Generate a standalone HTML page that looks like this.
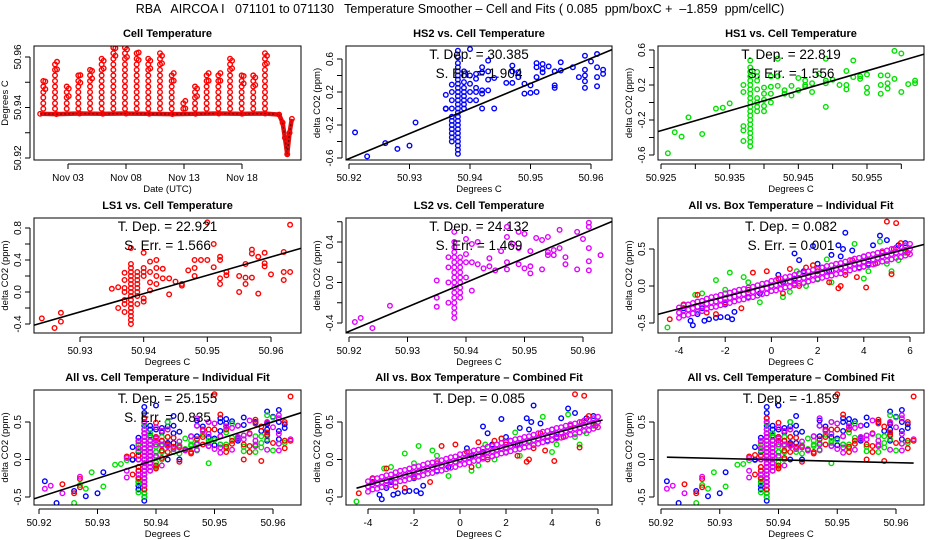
<!DOCTYPE html>
<html><head><meta charset="utf-8"><style>
html,body{margin:0;padding:0;background:#fff;}
svg{display:block;font-family:"Liberation Sans",sans-serif;}
</style></head><body>
<svg id="chart" xmlns="http://www.w3.org/2000/svg" width="936" height="540" viewBox="0 0 936 540">
<rect x="0" y="0" width="936" height="540" fill="#fff"/>
<text x="460" y="13" font-size="12.5" text-anchor="middle" xml:space="preserve">RBA   AIRCOA I   071101 to 071130   Temperature Smoother – Cell and Fits ( 0.085  ppm/boxC +  –1.859  ppm/cellC)</text>
</svg>
<script>
// ---------- data ----------
const tsSpikeDay=[0.87,1.88,2.89,3.89,4.90,5.90,6.91,7.91,8.92,9.92,10.93,11.94,12.94,13.95,14.95,15.96,16.97,17.97,18.97,19.98];
const tsSpikeTop=[50.9513,50.9591,50.9485,50.9538,50.9555,50.9595,50.9645,50.9640,50.9628,50.9595,50.9615,50.9546,50.9436,50.9485,50.9546,50.9546,50.9595,50.9535,50.9529,50.9615];
const tsBaseDay=[0.6,2,4,6,8,10,12,14,16,18,20,21.2,21.5,21.7,21.9,22.1,22.3];
const tsBaseTemp=[50.9375,50.9374,50.9376,50.9375,50.9376,50.9375,50.9374,50.9375,50.9376,50.9375,50.9376,50.9372,50.934,50.928,50.9215,50.930,50.9355];
const dateTicks=[3,8,13,18];
const dateLabels=["Nov 03","Nov 08","Nov 13","Nov 18"];

const hs2Cell=[50.921,50.923,50.926,50.928,50.930,50.931,50.936,50.937,50.938,50.939,50.940,50.941,50.942,50.943,50.944,50.946,50.947,50.948,50.949,50.950,50.951,50.952,50.953,50.954,50.955,50.957,50.958,50.959,50.960,50.961,50.962];
const hs2Co2=[[-0.29],[-0.58],[-0.42],[-0.49],[-0.45],[-0.17],[0.165,-0.005,0.0],[0.29,0.2,0.1,0.0,-0.1,-0.15,-0.2,-0.25,-0.3,-0.35,-0.4],[0.7,0.62,0.55,0.5,0.45,0.4,0.35,0.3,0.25,0.2,0.15,0.1,0.05,0,-0.05,-0.1,-0.15,-0.2,-0.25,-0.3,-0.35,-0.4,-0.45,-0.5,-0.55],[0.45,0.4,0.32,0.25,0.2,0.15,0.1,0.05,0],[0.72,0.4,0.3,0.2,0.1],[0.42,0.36,0.25,0.2,0.1],[0.5,0.44,0.22,0.18,0.0],[0.58,0.45,0.35,0.22],[0.37,0.0],[0.31],[0.52,0.45,0.31],[0.44,0.38],[0.3,0.18],[0.28,0.19],[0.55,0.5,0.38,0.2],[0.54,0.48,0.44],[0.51],[0.45,0.28,0.25],[0.56,0.46],[0.5],[0.38],[0.64,0.47,0.4,0.33,0.25],[0.57],[0.66,0.5,0.38,0.27],[0.47,0.42]];
const hs1Cell=[50.926,50.927,50.928,50.929,50.931,50.933,50.934,50.935,50.937,50.938,50.939,50.940,50.941,50.942,50.943,50.944,50.945,50.946,50.947,50.948,50.949,50.950,50.951,50.952,50.953,50.954,50.955,50.957,50.958,50.959,50.960,50.961,50.962];
const hs1Co2=[[-0.58],[-0.34],[-0.39],[-0.17],[-0.36],[-0.07],[-0.06],[-0.01],[0.2,0.12,-0.27,-0.32,-0.44],[0.48,0.4,0.35,0.3,0.25,0.2,0.15,0.1,0.05,0,-0.05,-0.1,-0.15,-0.2,-0.25,-0.3,-0.35,-0.4,-0.45,-0.5],[0.35,0.3,0.25,0.15,0.05,0,-0.05,-0.1],[0.17,0.1,0.03,-0.04,-0.1],[0.3,0.18,0.1,0.0],[0.5,0.3,0.19],[0.14,0.1],[0.19,0.08],[0.28,0.14],[0.25,0.2,0.18],[0.22,0.12],[0.33],[0.5,0.25,0.22,-0.05],[0.26],[0.2],[0.36,0.2,0.15],[0.48,0.29],[0.3,0.27],[0.32,0.17,0.11],[0.31,0.2,0.1],[0.31,0.22,0.16],[0.59,0.27],[0.56,0.12],[0.21],[0.22,0.25]];
const ls1Cell=[50.924,50.926,50.927,50.935,50.936,50.937,50.938,50.939,50.940,50.941,50.942,50.943,50.944,50.945,50.946,50.947,50.948,50.949,50.950,50.951,50.952,50.953,50.955,50.956,50.957,50.958,50.959,50.960,50.962,50.963];
const ls1Co2=[[-0.33],[-0.45],[-0.26,-0.37],[0.04],[0.06,-0.2],[0.24,0.15,0.05,0.0,-0.1,-0.15,-0.25],[0.55,0.35,0.3,0.25,0.2,0.15,0.1,0.05,0,-0.05,-0.1,-0.15,-0.2,-0.25,-0.3,-0.35,-0.4],[0.25,0.2,0.15,0.1,0.05,0,-0.05,-0.15],[0.49,0.3,0.25,0.2,-0.08,-0.12],[0.38,0.25,0.12,0.02],[0.4,0.3,0.2,0.1],[0.29,0.17],[0.17,-0.03],[0.13],[0.1,0.08],[0.27],[0.4,0.3,0.2],[0.4],[0.87,0.4],[0.6,0.31],[0.44,0.4,0.17,0.1],[0.25,0.21],[0.2,0.0],[0.35,0.18,0.1],[0.53,0.48,0.18],[0.44,-0.02],[0.49,0.36,0.32],[0.22],[0.5,0.25,0.15],[0.84,0.25]];
const ls2Cell=[50.921,50.922,50.924,50.927,50.935,50.937,50.938,50.939,50.940,50.941,50.942,50.943,50.944,50.945,50.946,50.947,50.948,50.949,50.950,50.951,50.952,50.953,50.954,50.955,50.956,50.957,50.959,50.960,50.961,50.963];
const ls2Co2=[[-0.39],[-0.35],[-0.45],[-0.23],[0.02,-0.15,-0.24],[0.25,0.15,0.0,-0.2],[0.5,0.4,0.35,0.3,0.25,0.2,0.15,0.1,0.05,0,-0.05,-0.1,-0.15,-0.2,-0.25,-0.3,-0.35],[0.25,0.2,0.15,0.1,0.05,0,-0.05,-0.1,-0.15],[0.43,0.28,0.2,0.05],[0.38,0.2,-0.08],[0.4,0.18],[0.14],[0.24,0.16],[0.12],[0.31],[0.55,0.45,0.2,0.13],[0.38],[0.5,0.34,0.18],[0.48,0.14],[0.31,0.16,0.09],[0.44],[0.42,0.13],[0.45,0.3,0.27],[0.32,0.27],[0.52,0.34],[0.25,0.18],[0.5,0.13],[0.43],[0.59,0.55,0.34,0.21,0.12],[0.27]];

const hs2BoxX=[-3.5,-3.4,-3.2,-2.9,-2.7,-2.4,-2.2,-1.9,-1.7,-1.6,-3.8,-3,-2,-1,0,0.5,1,1.4,1.0,1.2,1.8,2,2.2,2.5,2.6,2.9,3.1,3.2,3.5,3.0,4.0,4.4,4.7,5,5.5,5.8,4.2,3.8,-0.5,0.3];
const hs2BoxY=[-0.47,-0.53,-0.38,-0.47,-0.45,-0.43,-0.42,-0.42,-0.45,-0.35,-0.3,-0.3,-0.25,-0.15,0.0,0.05,0.1,0.2,0.44,0.35,0.54,0.3,0.25,0.2,0.42,0.55,0.5,0.72,0.48,0.4,0.4,0.55,0.68,0.62,0.55,0.58,0.3,0.25,-0.1,0.15];
const hs1BoxX=[-4.5,-3.8,-3,-2.4,-1.8,-1.2,-0.5,0,0.5,1.1,1.5,2,2.6,3,3.6,4.2,4.7,5.0,5.5,5.8,-2,-1,1.8,4,5.2,0.8,-3.3,2.4];
const hs1BoxY=[-0.56,-0.25,-0.1,0.08,0.18,0.12,-0.22,0.0,-0.15,0.2,0.0,0.1,0.05,0.25,0.57,0.2,0.6,0.3,0.35,0.45,-0.05,0.05,0.28,0.1,0.2,-0.08,-0.12,0.36];
const ls1BoxX=[-4.4,-3.8,-3.2,-2.8,-2.4,-2.0,-1.3,-0.8,-0.2,0.3,0.8,1,1.5,1.8,2,2.5,3,3.2,3.7,4,4.1,4.5,4.8,5,5.3,5.4,5.6,5.9,2.9,0.5,-1.0,5.2,3.5,1.2];
const ls1BoxY=[-0.45,-0.25,-0.12,-0.36,-0.38,-0.22,-0.3,0.18,0.2,0.1,0.23,0.03,0.25,0.28,0.2,0.05,0.0,0.15,0.12,0.26,-0.02,0.3,0.45,0.87,0.5,0.85,0.58,0.45,-0.03,-0.1,-0.05,0.16,0.35,0.0];
const ls2BoxX=[-4.0,-3.8,-3.6,-3.4,-3.2,-3.0,-2.8,-2.6,-2.4,-2.2,-2.0,-1.8,-1.6,-1.4,-1.2,-1.0,-0.8,-0.6,-0.4,-0.2,0.0,0.2,0.4,0.6,0.8,1.0,1.2,1.4,1.6,1.8,2.0,2.2,2.4,2.6,2.8,3.0,3.2,3.4,3.6,3.8,4.0,4.2,4.4,4.6,4.8,5.0,5.2,5.4,5.6,5.8,6.0];
const ls2BoxY=[-0.36,-0.33,-0.32,-0.30,-0.28,-0.27,-0.24,-0.22,-0.21,-0.19,-0.17,-0.16,-0.14,-0.12,-0.11,-0.09,-0.08,-0.06,-0.04,-0.03,0.0,0.01,0.03,0.05,0.06,0.08,0.10,0.11,0.13,0.15,0.16,0.18,0.20,0.21,0.23,0.24,0.26,0.28,0.30,0.31,0.33,0.35,0.36,0.38,0.40,0.41,0.43,0.45,0.46,0.48,0.50];

const fitSlope=[30.385,22.819,22.921,24.132,0.082,25.155,0.085,-1.859];
const fitAtRef=[0.0,0.02,-0.02,0.0,0.02,0.0,0.0,-0.005];
const tDepText=["30.385","22.819","22.921","24.132","0.082","25.155","0.085","-1.859"];
const sErrText=["1.904","1.556","1.566","1.469","0.001","0.835",null,null];

// ---------- drawing ----------
const NS="http://www.w3.org/2000/svg";
const svg=document.getElementById('chart');
function el(tag,attrs,parent){const e=document.createElementNS(NS,tag);for(const k in attrs)e.setAttribute(k,attrs[k]);(parent||svg).appendChild(e);return e;}
function lin(v1,p1,v2,p2){return v=>p1+(v-v1)*(p2-p1)/(v2-v1);}
const COLS=[[34,301],[346,612],[658,924]];
const ROWS=[[46,160],[218,333],[390,505]];
const COLORS={hs2:"#0000ff",hs1:"#00e000",ls1:"#ff0000",ls2:"#e000ff"};
let clipId=0;

function panel(o){
  const g=el('g',{});
  
  
  const [L,R]=COLS[o.col],[T,B]=ROWS[o.row];
  const sx=lin(o.xr[0],o.xr[1],o.xr[2],o.xr[3]);
  const sy=lin(o.yr[0],o.yr[1],o.yr[2],o.yr[3]);
  const cid='clip'+(clipId++);
  const cp=el('clipPath',{id:cid},g);el('rect',{x:L,y:T,width:R-L,height:B-T},cp);
  const plot=el('g',{'clip-path':'url(#'+cid+')'},g);
  
  
  const t=el('text',{x:(L+R)/2,y:T-9,'font-size':11,'font-weight':'bold','text-anchor':'middle'},g);
  t.textContent=o.title;
  
  
  const xa=el('g',{stroke:'#000','stroke-width':1},g);
  
  
  const xt=o.xticks;
  el('line',{x1:sx(xt[0]),x2:sx(xt[xt.length-1]),y1:B+4,y2:B+4},xa);
  xt.forEach((v,i)=>{
    el('line',{x1:sx(v),x2:sx(v),y1:B+4,y2:B+9},xa);
    const lab=o.xlabels[i];
    if(lab!==null){const tx=el('text',{x:sx(v),y:B+21,'font-size':10,'text-anchor':'middle',stroke:'none'},g);tx.textContent=lab;
      
      }
  });
  const xtitle=el('text',{x:(L+R)/2,y:B+32,'font-size':9.5,'text-anchor':'middle'},g);
  xtitle.textContent=o.xtitle;
  
  
  const ya=el('g',{stroke:'#000','stroke-width':1},g);
  
  
  const yt=o.yticks;
  el('line',{x1:L-4,x2:L-4,y1:sy(yt[0]),y2:sy(yt[yt.length-1])},ya);
  yt.forEach((v,i)=>{
    el('line',{x1:L-4,x2:L-9,y1:sy(v),y2:sy(v)},ya);
    const lab=o.ylabels[i];
    if(lab!==null){const tx=el('text',{x:0,y:0,'font-size':10,'text-anchor':'middle',transform:`translate(${L-13},${sy(v)}) rotate(-90)`},g);tx.textContent=lab;
      
      }
  });
  const ytitle=el('text',{x:0,y:0,'font-size':9.5,'text-anchor':'middle',transform:`translate(${L-26},${(T+B)/2}) rotate(-90)`},g);
  ytitle.textContent=o.ytitle;
  
  
  const bx=el('rect',{x:L,y:T,width:R-L,height:B-T,fill:'none',stroke:'#000','stroke-width':1},g);
  
  
  return {g,plot,sx,sy,L,R,T,B};
}
function pt(p,x,y,color){
  const c=el('circle',{cx:x,cy:y,r:2.3,fill:'none',stroke:color,'stroke-width':1.4},p.plot);
  
  
}
function cellPoints(p,temps,co2,color){
  temps.forEach((t,i)=>co2[i].forEach(v=>pt(p,p.sx(t),p.sy(v),color)));
}
function boxPoints(p,xs,ys,color,dense){
  xs.forEach((x,i)=>{
    if(dense){[-0.07,0,0.07].forEach(d=>pt(p,p.sx(x),p.sy(ys[i]+d),color));}
    else pt(p,p.sx(x),p.sy(ys[i]),color);
  });
}
function fit(p,k,xref,x1,x2){
  const f=x=>fitAtRef[k]+fitSlope[k]*(x-xref);
  const ln=el('line',{x1:p.sx(x1),y1:p.sy(f(x1)),x2:p.sx(x2),y2:p.sy(f(x2)),stroke:'#000','stroke-width':1.6},p.plot);
  
  
}
function note(p,k){
  const cx=(p.L+p.R)/2;
  const a=el('text',{x:cx,y:p.T+13,'font-size':13.5,'text-anchor':'middle','xml:space':'preserve'},p.g);
  a.textContent='T. Dep. =  '+tDepText[k];
  
  
  if(sErrText[k]!==null){
    const b=el('text',{x:cx,y:p.T+32,'font-size':13.5,'text-anchor':'middle','xml:space':'preserve'},p.g);
    b.textContent='S. Err. =  '+sErrText[k];
    
    
  }
}
function rng(a,b,s){const r=[];for(let v=a;v<=b+1e-9;v+=s)r.push(+v.toFixed(4));return r;}
const cellX=[50.92,50.93,50.94,50.95,50.96], cellXL=["50.92","50.93","50.94","50.95","50.96"];
const co2Y6=rng(-0.6,0.6,0.2), co2Y6L=["-0.6",null,"-0.2",null,"0.2",null,"0.6"];
const co2Y5=[-0.5,0,0.5], co2Y5L=["-0.5","0.0","0.5"];
const boxX=[-4,-2,0,2,4,6], boxXL=["-4","-2","0","2","4","6"];
const DY="delta CO2 (ppm)", DC="Degrees C";

const p1=panel({name:'cell-temperature-panel',col:0,row:0,title:'Cell Temperature',xr:[3,68,8,126],yr:[50.96,57,50.92,158],
  xticks:dateTicks,xlabels:dateLabels,yticks:[50.92,50.93,50.94,50.95,50.96],ylabels:["50.92",null,"50.94",null,"50.96"],xtitle:'Date (UTC)',ytitle:'Degrees C'});
{
  const pts=tsBaseDay.map((d,i)=>p1.sx(d)+','+p1.sy(tsBaseTemp[i])).join(' ');
  const bl=el('polyline',{points:pts,fill:'none',stroke:'#e01010','stroke-width':4.5,'stroke-linejoin':'round'},p1.plot);
  
  
  const bl2=el('polyline',{points:pts,fill:'none',stroke:'#600','stroke-width':1.2,'stroke-dasharray':'2 2'},p1.plot);
  
  
  tsBaseDay.forEach((d,i)=>pt(p1,p1.sx(d),p1.sy(tsBaseTemp[i]),'#ff0000'));
  tsSpikeDay.forEach((d,i)=>{
    for(let t=50.9395;t<=tsSpikeTop[i]+1e-6;t+=0.0022){
      pt(p1,p1.sx(d),p1.sy(t),'#ff0000');
    }
    pt(p1,p1.sx(d)+2,p1.sy(tsSpikeTop[i]-0.001),'#ff0000');
    pt(p1,p1.sx(d)+2,p1.sy(tsSpikeTop[i]-0.004),'#ff0000');
  });
}
const p2=panel({name:'hs2-panel',col:1,row:0,title:'HS2 vs. Cell Temperature',xr:[50.92,349,50.96,591],yr:[0.6,59,-0.6,158],
  xticks:cellX,xlabels:cellXL,yticks:co2Y6,ylabels:co2Y6L,xtitle:DC,ytitle:DY});
cellPoints(p2,hs2Cell,hs2Co2,COLORS.hs2);fit(p2,0,50.94,50.91,50.97);note(p2,0);
const p3=panel({name:'hs1-panel',col:2,row:0,title:'HS1 vs. Cell Temperature',xr:[50.925,661,50.955,867],yr:[0.6,50,-0.6,155],
  xticks:rng(50.925,50.96,0.005),xlabels:["50.925",null,"50.935",null,"50.945",null,"50.955",null],yticks:co2Y6,ylabels:co2Y6L,xtitle:DC,ytitle:DY});
cellPoints(p3,hs1Cell,hs1Co2,COLORS.hs1);fit(p3,1,50.94,50.91,50.97);note(p3,1);
const p4=panel({name:'ls1-panel',col:0,row:1,title:'LS1 vs. Cell Temperature',xr:[50.93,80,50.96,271],yr:[0.8,228,-0.4,324],
  xticks:[50.93,50.94,50.95,50.96],xlabels:["50.93","50.94","50.95","50.96"],yticks:rng(-0.4,0.8,0.2),ylabels:["-0.4",null,"0.0",null,"0.4",null,"0.8"],xtitle:DC,ytitle:DY});
cellPoints(p4,ls1Cell,ls1Co2,COLORS.ls1);fit(p4,2,50.94,50.91,50.97);note(p4,2);
const p5=panel({name:'ls2-panel',col:1,row:1,title:'LS2 vs. Cell Temperature',xr:[50.92,349,50.96,583],yr:[0.4,242,-0.4,323],
  xticks:cellX,xlabels:cellXL,yticks:rng(-0.4,0.6,0.2),ylabels:["-0.4",null,"0.0",null,"0.4",null],xtitle:DC,ytitle:DY});
cellPoints(p5,ls2Cell,ls2Co2,COLORS.ls2);fit(p5,3,50.94,50.91,50.97);note(p5,3);
const p6=panel({name:'all-box-individual-panel',col:2,row:1,title:'All vs. Box Temperature – Individual Fit',xr:[-4,679,6,910],yr:[0.5,249,-0.5,323],
  xticks:boxX,xlabels:boxXL,yticks:co2Y5,ylabels:co2Y5L,xtitle:DC,ytitle:DY});
boxPoints(p6,hs2BoxX,hs2BoxY,COLORS.hs2);boxPoints(p6,hs1BoxX,hs1BoxY,COLORS.hs1);boxPoints(p6,ls1BoxX,ls1BoxY,COLORS.ls1);boxPoints(p6,ls2BoxX,ls2BoxY,COLORS.ls2,true);
fit(p6,4,0,-6,8);note(p6,4);
const p7=panel({name:'all-cell-individual-panel',col:0,row:2,title:'All vs. Cell Temperature – Individual Fit',xr:[50.92,39,50.96,273],yr:[0.5,422,-0.5,497],
  xticks:cellX,xlabels:cellXL,yticks:co2Y5,ylabels:co2Y5L,xtitle:DC,ytitle:DY});
cellPoints(p7,hs2Cell,hs2Co2,COLORS.hs2);cellPoints(p7,hs1Cell,hs1Co2,COLORS.hs1);cellPoints(p7,ls1Cell,ls1Co2,COLORS.ls1);cellPoints(p7,ls2Cell,ls2Co2,COLORS.ls2);
fit(p7,5,50.94,50.91,50.97);note(p7,5);
const p8=panel({name:'all-box-combined-panel',col:1,row:2,title:'All vs. Box Temperature – Combined Fit',xr:[-4,368,6,598],yr:[0.5,422,-0.5,497],
  xticks:boxX,xlabels:boxXL,yticks:co2Y5,ylabels:co2Y5L,xtitle:DC,ytitle:DY});
boxPoints(p8,hs2BoxX,hs2BoxY,COLORS.hs2);boxPoints(p8,hs1BoxX,hs1BoxY,COLORS.hs1);boxPoints(p8,ls1BoxX,ls1BoxY,COLORS.ls1);boxPoints(p8,ls2BoxX,ls2BoxY,COLORS.ls2,true);
fit(p8,6,0,-4.5,6.2);note(p8,6);
const p9=panel({name:'all-cell-combined-panel',col:2,row:2,title:'All vs. Cell Temperature – Combined Fit',xr:[50.92,661,50.96,896],yr:[0.5,422,-0.5,497],
  xticks:cellX,xlabels:cellXL,yticks:co2Y5,ylabels:co2Y5L,xtitle:DC,ytitle:DY});
cellPoints(p9,hs2Cell,hs2Co2,COLORS.hs2);cellPoints(p9,hs1Cell,hs1Co2,COLORS.hs1);cellPoints(p9,ls1Cell,ls1Co2,COLORS.ls1);cellPoints(p9,ls2Cell,ls2Co2,COLORS.ls2);
fit(p9,7,50.94,50.921,50.963);note(p9,7);
</script>
</body></html>
